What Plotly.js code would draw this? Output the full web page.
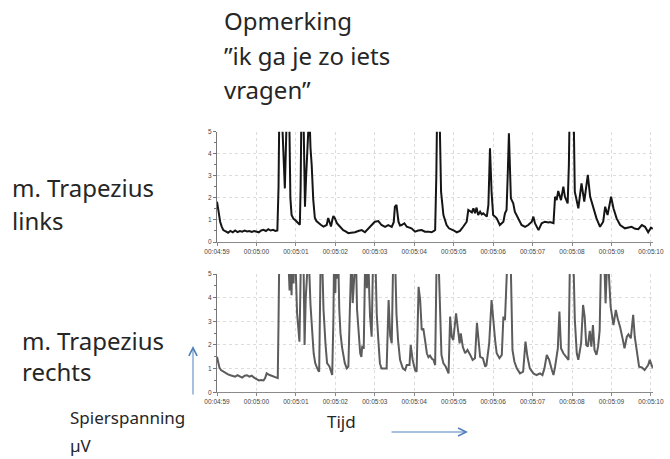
<!DOCTYPE html>
<html><head><meta charset="utf-8">
<script src="https://cdn.plot.ly/plotly-3.0.1.min.js"></script>
<style>html,body{margin:0;padding:0;background:#fff}#c{width:670px;height:459px}</style>
</head><body><div id="c"></div>
<script>
// time in seconds after 00:04:59
const tickLabels = ["00:04:59","00:05:00","00:05:01","00:05:02","00:05:03","00:05:04","00:05:05","00:05:06","00:05:07","00:05:08","00:05:09","00:05:10"];
const yTicks = [0,1,2,3,4,5];

const tLinks = [0.00,0.04,0.08,0.12,0.16,0.22,0.28,0.34,0.40,0.46,0.52,0.58,0.64,0.70,0.76,0.82,0.88,0.94,1.00,1.06,1.12,1.18,1.24,1.30,1.36,1.42,1.48,1.53,1.56,1.58,1.64,1.68,1.72,1.75,1.77,1.83,1.86,1.89,1.94,1.98,2.02,2.06,2.10,2.12,2.14,2.19,2.21,2.23,2.26,2.29,2.34,2.37,2.40,2.44,2.48,2.52,2.57,2.63,2.70,2.78,2.82,2.86,2.89,2.93,2.95,2.99,3.04,3.08,3.14,3.20,3.26,3.33,3.40,3.50,3.58,3.67,3.75,3.84,3.92,4.00,4.09,4.17,4.26,4.34,4.43,4.48,4.51,4.55,4.60,4.64,4.68,4.75,4.81,4.87,4.93,5.02,5.10,5.19,5.27,5.36,5.44,5.50,5.53,5.56,5.58,5.64,5.66,5.68,5.74,5.82,5.88,5.95,6.02,6.08,6.16,6.24,6.33,6.37,6.42,6.46,6.50,6.54,6.58,6.62,6.67,6.71,6.75,6.80,6.84,6.88,6.92,6.96,7.00,7.05,7.09,7.17,7.26,7.30,7.34,7.37,7.40,7.45,7.51,7.55,7.64,7.72,7.81,7.89,7.98,8.02,8.06,8.15,8.23,8.31,8.40,8.44,8.53,8.57,8.61,8.65,8.72,8.78,8.82,8.89,8.92,8.94,9.04,9.07,9.16,9.24,9.31,9.40,9.46,9.54,9.62,9.71,9.79,9.84,9.90,9.99,10.05,10.13,10.22,10.34,10.42,10.51,10.60,10.68,10.77,10.85,10.93,11.00,11.05];
const vLinks = [1.83,1.40,0.92,0.70,0.54,0.48,0.42,0.50,0.44,0.52,0.45,0.50,0.47,0.52,0.48,0.50,0.46,0.50,0.48,0.44,0.52,0.55,0.50,0.58,0.52,0.55,0.50,0.52,2.5,6,6,4.5,2.43,4.5,6,6,2.0,1.23,1.05,1.0,0.92,0.86,0.78,2.5,6,6,3,1.6,3,6,6,4.27,3.5,1.92,1.1,0.95,0.86,0.78,0.70,0.77,1.09,0.85,0.70,1.05,1.18,1.07,0.85,0.77,0.65,0.54,0.48,0.40,0.42,0.44,0.50,0.54,0.44,0.62,0.77,0.92,0.95,0.77,0.69,0.77,0.69,0.9,1.60,1.68,0.92,0.75,0.77,0.85,0.69,0.65,0.62,0.47,0.52,0.54,0.47,0.47,0.44,0.50,0.54,3,6,6,3.5,2.28,1.22,0.77,0.62,0.54,0.50,0.44,0.50,0.69,0.92,1.45,1.37,1.34,1.53,1.30,1.56,1.22,1.37,1.25,1.30,1.20,1.15,1.68,4.25,2.28,1.22,1.15,1.07,0.77,0.92,1.30,1.45,3.04,4.93,1.98,1.75,1.37,1.07,0.77,0.69,0.77,0.92,1.15,0.85,0.54,0.85,0.92,0.88,0.90,0.85,2.05,1.90,2.31,1.90,2.51,2.05,1.75,3.5,6,6,2.28,1.53,2.66,1.83,3.04,2.05,1.53,1.07,0.69,0.92,1.60,1.22,2.05,1.53,1.07,0.77,0.62,0.66,0.69,0.60,0.58,0.77,0.69,0.44,0.65,0.60];

const tRechts = [0.00,0.03,0.06,0.10,0.16,0.22,0.28,0.34,0.40,0.46,0.52,0.58,0.64,0.70,0.76,0.82,0.88,0.94,1.00,1.06,1.12,1.18,1.22,1.26,1.32,1.38,1.44,1.50,1.54,1.56,1.58,1.80,1.84,1.86,1.89,1.91,1.94,1.96,1.99,2.03,2.06,2.09,2.11,2.13,2.19,2.22,2.25,2.28,2.32,2.37,2.41,2.45,2.49,2.53,2.56,2.59,2.61,2.63,2.66,2.70,2.75,2.79,2.85,2.88,2.92,2.95,2.97,3.00,3.02,3.04,3.07,3.10,3.13,3.17,3.24,3.29,3.33,3.36,3.38,3.41,3.44,3.47,3.52,3.55,3.59,3.63,3.66,3.68,3.72,3.74,3.76,3.80,3.83,3.86,3.88,3.92,3.94,3.96,4.01,4.05,4.09,4.13,4.17,4.24,4.30,4.35,4.39,4.43,4.45,4.47,4.51,4.55,4.59,4.64,4.71,4.77,4.81,4.88,4.91,4.96,5.02,5.06,5.11,5.15,5.19,5.23,5.28,5.32,5.36,5.40,5.45,5.49,5.53,5.57,5.61,5.65,5.69,5.74,5.80,5.87,5.91,5.95,5.99,6.06,6.10,6.15,6.18,6.23,6.29,6.35,6.42,6.48,6.54,6.59,6.63,6.67,6.74,6.80,6.83,6.90,6.96,7.00,7.05,7.09,7.16,7.22,7.26,7.30,7.34,7.37,7.44,7.47,7.49,7.54,7.60,7.68,7.76,7.82,7.87,7.93,8.02,8.10,8.19,8.25,8.30,8.36,8.42,8.49,8.53,8.57,8.64,8.68,8.72,8.78,8.87,8.91,8.95,9.03,9.07,9.12,9.16,9.23,9.28,9.32,9.36,9.40,9.45,9.49,9.53,9.57,9.62,9.66,9.70,9.74,9.81,9.85,9.90,9.93,9.98,10.05,10.11,10.16,10.22,10.28,10.33,10.39,10.43,10.49,10.55,10.59,10.64,10.66,10.70,10.77,10.84,10.90,10.93,10.97,11.02,11.05];
const vRechts = [1.50,1.29,1.05,0.94,0.87,0.80,0.76,0.72,0.70,0.66,0.72,0.66,0.62,0.70,0.72,0.66,0.70,0.62,0.55,0.50,0.52,0.50,0.60,0.80,0.74,0.70,0.66,0.62,0.60,3,6,6,4.3,6,4.1,6,4.6,6,5.5,3.34,2.6,2.14,4,6,6,2.0,4,6,6,3.7,2.4,1.65,1.23,1.05,0.94,0.87,3,6,6,3.5,2.05,1.23,1.09,0.95,0.73,3,6,4.2,6,4.8,6,3.5,2.5,1.9,1.23,1.01,1.09,3,4.6,6,3.77,6,6,3.5,2.5,1.65,1.50,1.93,1.90,4,6,4.4,6,4.2,3.2,2.35,4,6,6,3.3,2.2,1.22,1.01,1.01,1.01,3.9,2.4,2.07,4,6,6,3.3,2.2,1.37,1.01,0.94,1.15,1.15,2.0,1.37,0.94,0.87,4.46,3.9,2.63,2.70,2.13,1.65,1.48,1.55,1.42,1.37,1.15,6,6,3.2,1.58,1.22,1.08,0.80,3.2,2.35,2.21,3.34,2.65,2.07,2.49,1.93,1.65,1.79,1.58,1.37,1.44,2.94,2.21,1.50,1.44,1.08,1.15,2.07,3.90,3.05,2.21,1.65,1.44,1.58,3.20,3.05,4.1,6,6,3.0,1.79,1.29,1.01,0.80,0.87,2.14,1.50,1.01,0.80,0.73,0.80,0.73,1.01,1.58,1.37,0.94,0.73,1.08,1.86,3.41,1.86,1.65,1.44,1.37,6,6,3.1,1.65,1.37,2.07,3.69,3.2,2.0,1.93,2.6,1.93,2.84,1.79,1.58,1.93,2.6,6,6,3.76,6,4.9,3.6,2.84,3.48,3.1,2.75,2.28,1.86,2.35,2.45,2.28,3.27,2.35,1.79,1.37,1.08,1.05,0.94,1.08,1.15,1.37,1.08,1.01];

const W = 670, H = 459;
const px = x => x / W, py = y => 1 - y / H;

const xRange = [0, 11.05];
const xDomain = [px(217), px(652.9)];

const tickFont = {family: "Liberation Sans Narrow, Liberation Sans, sans-serif", size: 6.5, color: "#444"};

function xAxis(anchor){
  return {domain: xDomain, range: xRange, anchor: anchor, tickvals: tickLabels.map((_, i) => i), ticktext: tickLabels,
    tickfont: tickFont,
    showgrid: true, gridcolor: "#dcdcdc", griddash: "dot", gridwidth: 1,
    showline: true, linecolor: "#8a8a8a", linewidth: 1, ticks: "outside", ticklen: 3, tickcolor: "#8a8a8a",
    zeroline: false, fixedrange: true};
}
function yAxis(anchor, dom){
  return {domain: dom, range: [0, 5], anchor: anchor, tickvals: yTicks,
    tickfont: tickFont,
    showgrid: true, gridcolor: "#dcdcdc", griddash: "dot", gridwidth: 1,
    showline: true, linecolor: "#777", linewidth: 1, ticks: "outside", ticklen: 3, tickcolor: "#777",
    minor: {dtick: 0.5, ticklen: 2, tickcolor: "#777", showgrid: false},
    zeroline: false, fixedrange: true};
}

const traces = [
  {x: tLinks, y: vLinks, xaxis: "x", yaxis: "y", mode: "lines", line: {color: "#151515", width: 2}, hoverinfo: "skip"},
  {x: tRechts, y: vRechts, xaxis: "x2", yaxis: "y2", mode: "lines", line: {color: "#5c5c5c", width: 2}, hoverinfo: "skip"}
];

const big = {family: "Noto Sans, Open Sans, sans-serif", size: 24, color: "#262626"};
const mid = {family: "Noto Sans, Open Sans, sans-serif", size: 17, color: "#262626"};
function label(text, x, y, font){
  return {text: text, x: px(x), y: py(y), xref: "paper", yref: "paper", xanchor: "left", yanchor: "middle", showarrow: false, font: font};
}

const annotations = [
  label("Opmerking", 222, 21, big),
  label("\u201Dik ga je zo iets", 222, 56, big),
  label("vragen\u201D", 222, 90, big),
  label("m. Trapezius", 10, 188, big),
  label("links", 10, 221, big),
  label("m. Trapezius", 20, 340, big),
  label("rechts", 20, 371, big),
  label("Spierspanning", 68, 417, mid),
  label("\u00B5V", 68, 445, mid),
  label("Tijd", 325, 421, mid),
  {x: px(193), y: py(346), xref: "paper", yref: "paper", ax: 0, ay: 50, text: "", showarrow: true,
   arrowhead: 5, arrowsize: 1.6, arrowwidth: 1, arrowcolor: "#4f81bd"},
  {x: px(468), y: py(432), xref: "paper", yref: "paper", ax: -78, ay: 0, text: "", showarrow: true,
   arrowhead: 5, arrowsize: 1.6, arrowwidth: 1, arrowcolor: "#4f81bd"}
];

const layout = {
  width: W, height: H, margin: {l: 0, r: 0, t: 0, b: 0},
  paper_bgcolor: "#ffffff", plot_bgcolor: "#ffffff", showlegend: false,
  xaxis: xAxis("y"), yaxis: yAxis("x", [py(242), py(131.7)]),
  xaxis2: xAxis("y2"), yaxis2: yAxis("x2", [py(392.3), py(274)]),
  annotations: annotations
};

Plotly.newPlot("c", traces, layout, {displayModeBar: false, staticPlot: true});
</script></body></html>
